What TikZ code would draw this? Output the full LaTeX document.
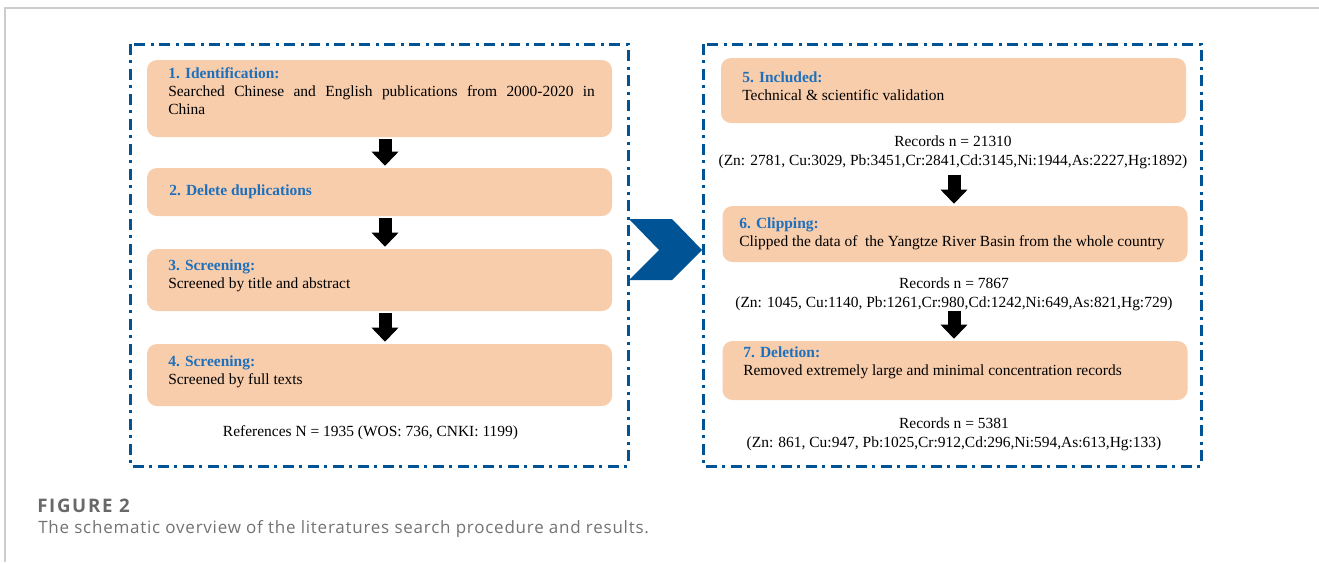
\documentclass[tikz,border=0pt]{standalone}
\usepackage{fontspec}
\setmainfont{Liberation Serif}
\newfontfamily\captionfont[LetterSpace=4.5]{Open Sans}
\newfontfamily\figlabelfont[LetterSpace=9]{Open Sans}
\usetikzlibrary{arrows.meta}
\definecolor{Outline}{RGB}{0,84,150}
\definecolor{StepFill}{RGB}{248,205,172}
\definecolor{StepTitle}{RGB}{30,112,188}
\definecolor{FrameLine}{RGB}{205,205,205}
\definecolor{CaptionTitle}{RGB}{105,105,105}
\definecolor{CaptionText}{RGB}{115,115,115}

\begin{document}
\begin{tikzpicture}[x=0.75pt, y=-0.75pt]
			\tikzstyle{stepbox}=[shape=rectangle, rounded corners=7.5pt, fill=StepFill, minimum width=348.75pt, inner sep=0pt];
			\tikzstyle{steptext}=[anchor=north west, inner sep=0pt, text width=320pt, align=justify, font=\fontsize{11.6}{13.5}\selectfont];
			\tikzstyle{records}=[inner sep=0pt, align=center, font=\fontsize{11.6}{14.25}\selectfont];
			\tikzstyle{blockarrow}=[line width=9.75pt, -{Triangle[width=19.5pt, length=10.5pt]}, shorten <=1.5pt, shorten >=1.5pt];
			\tikzstyle{group}=[draw=Outline, line width=2.25pt, dash pattern=on 8.25pt off 3.75pt on 2.25pt off 4.5pt];
			\useasboundingbox (0,0) rectangle (1319,562);
			\draw [FrameLine, line width=1.2pt] (1319,8) -- (5,8) -- (5,562);
			\draw [group] (130,44) rectangle (628,466);
			\draw [group] (703,44) rectangle (1201,466);
			\fill [Outline] (629,219) -- (672,219) -- (702,250) -- (672,280) -- (629,280) -- (659,250) -- cycle;
			\node [stepbox, minimum height=57.75pt] (b1) at (379.5,98.5) {};
			\node [stepbox, minimum height=36pt] (b2) at (379.5,192) {};
			\node [stepbox, minimum height=46.5pt] (b3) at (379.5,280) {};
			\node [stepbox, minimum height=46.5pt] (b4) at (379.5,375) {};
			\node [stepbox, minimum height=48.75pt] (b5) at (953.5,90.5) {};
			\node [stepbox, minimum height=42pt] (b6) at (955,234) {};
			\node [stepbox, minimum height=44.25pt] (b7) at (955,370.5) {};
			\node [steptext] (t1) at (168,67) {{\color{StepTitle}\bfseries 1. Identification:}\\ Searched Chinese and English publications from 2000-2020 in\linebreak China};
			\node [steptext] (t2) at (169,184) {{\color{StepTitle}\bfseries 2. Delete duplications}};
			\node [steptext] (t3) at (168,259) {{\color{StepTitle}\bfseries 3. Screening:}\\ Screened by title and abstract};
			\node [steptext] (t4) at (168,355) {{\color{StepTitle}\bfseries 4. Screening:}\\ Screened by full texts};
			\node [steptext] (t5) at (742,71) {{\color{StepTitle}\bfseries 5. Included:}\\ Technical \& scientific validation};
			\node [steptext] (t6) at (739,217) {{\color{StepTitle}\bfseries 6. Clipping:}\\ Clipped the data of\ \ the Yangtze River Basin from the whole country};
			\node [steptext] (t7) at (743,346) {{\color{StepTitle}\bfseries 7. Deletion:}\\ Removed extremely large and minimal concentration records};
			\node [records] (ref) at (370.5,433) {References N = 1935 (WOS: 736, CNKI: 1199)};
			\node [records] (r1) at (953,152.5) {Records n = 21310\\ (Zn: 2781, Cu:3029, Pb:3451,Cr:2841,Cd:3145,Ni:1944,As:2227,Hg:1892)};
			\node [records] (r2) at (954,294) {Records n = 7867\\ (Zn: 1045, Cu:1140, Pb:1261,Cr:980,Cd:1242,Ni:649,As:821,Hg:729)};
			\node [records] (r3) at (954,434.5) {Records n = 5381\\ (Zn: 861, Cu:947, Pb:1025,Cr:912,Cd:296,Ni:594,As:613,Hg:133)};
			\draw [blockarrow] (b1.south -| 385,0) -- (b2.north -| 385,0);
			\draw [blockarrow] (b2.south -| 385,0) -- (b3.north -| 385,0);
			\draw [blockarrow] (b3.south -| 385,0) -- (b4.north -| 385,0);
			\draw [blockarrow, shorten <=4pt] (r1.south -| 954,0) -- (b6.north -| 954,0);
			\draw [blockarrow, shorten <=0pt] (r2.south -| 954,0) -- (b7.north -| 954,0);
			\node [anchor=base west, inner sep=0pt, font=\figlabelfont\bfseries\fontsize{14}{16}\selectfont, text=CaptionTitle] (figlabel) at (37,512) {FIGURE 2};
			\node [anchor=base west, inner sep=0pt, font=\captionfont\fontsize{12.75}{15}\selectfont, text=CaptionText] (figcaption) at (38,533) {The schematic overview of the literatures search procedure and results.};
		\end{tikzpicture}
\end{document}
